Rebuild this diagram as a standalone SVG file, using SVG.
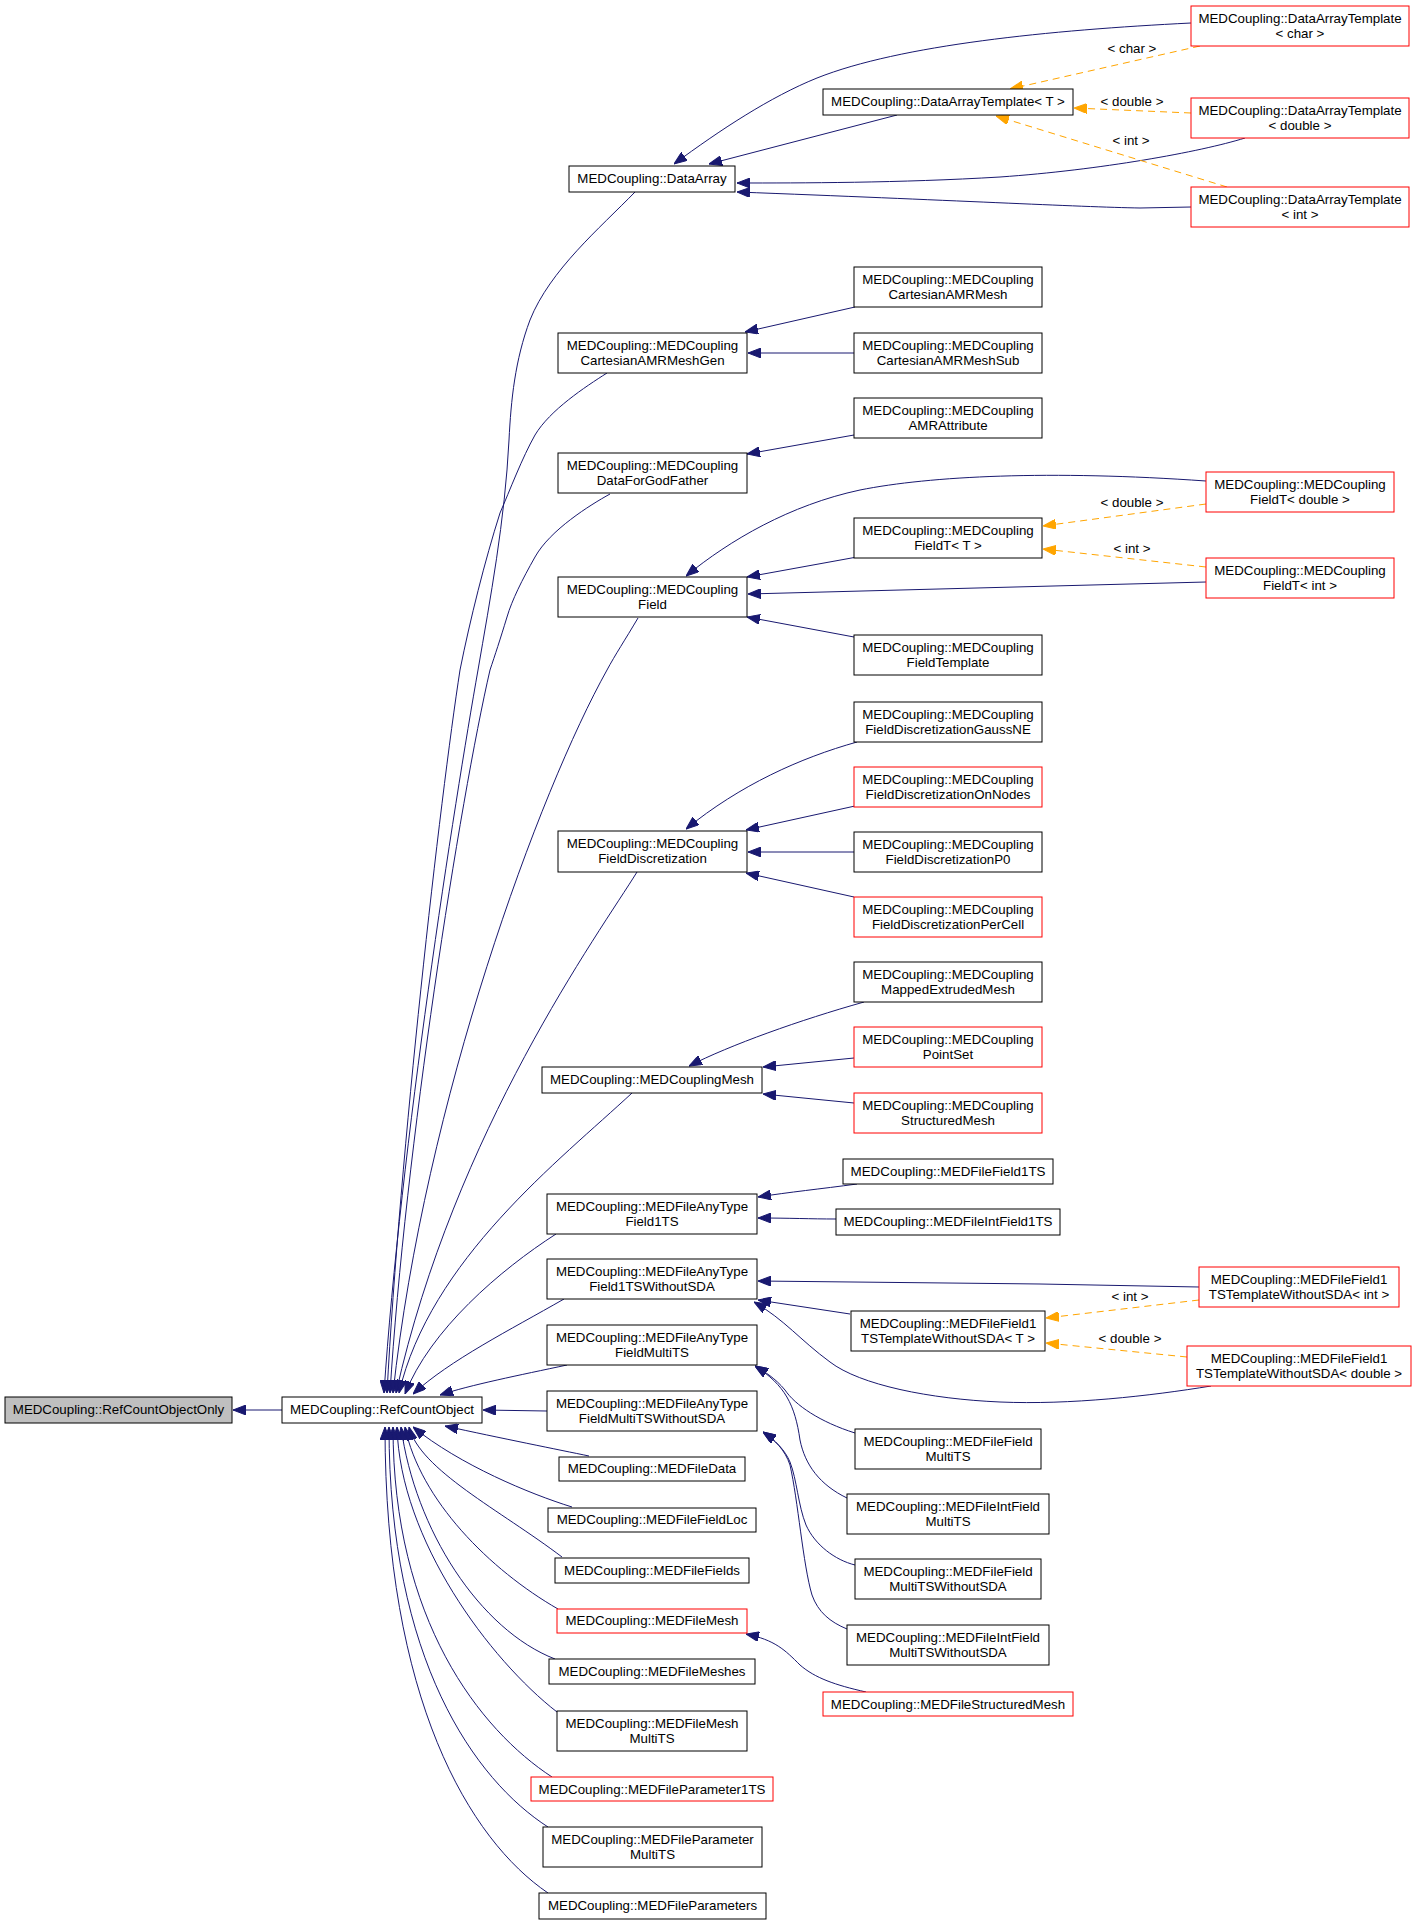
<svg xmlns="http://www.w3.org/2000/svg" width="1417" height="1925" viewBox="0 0 1417 1925">
<defs>
<marker id="ab" markerUnits="userSpaceOnUse" markerWidth="13" markerHeight="10" refX="13" refY="5" orient="auto"><path d="M0,0 L13,5 L0,10 z" fill="#191970" stroke="#191970"/></marker>
<marker id="ao" markerUnits="userSpaceOnUse" markerWidth="13" markerHeight="10" refX="13" refY="5" orient="auto"><path d="M0,0 L13,5 L0,10 z" fill="#ffa500" stroke="#ffa500"/></marker>
</defs>
<style>
rect{fill:#fff;stroke:#000;stroke-width:1}
.r rect{stroke:#f00}
.g rect{fill:#bfbfbf}
text{font-family:"Liberation Sans",Arial,Helvetica,sans-serif;font-size:13.3px;text-anchor:middle;fill:#000}
.e path{fill:none;stroke:#191970;stroke-width:1;marker-end:url(#ab)}
.e path.t{stroke:#ffa500;stroke-dasharray:7,5;marker-end:url(#ao)}
</style>
<rect x="0" y="0" width="1417" height="1925" style="fill:#fff;stroke:none"/>
<g class="e" id="edges">
<path d="M282,1410 L233,1410"/>
<path d="M635,192 C600,228 550,270 530,320 C515,360 511,400 509,440 C505,520 490,600 478,670 C455,800 400,1150 384,1393"/>
<path d="M607,373 C585,387 550,410 535,435 C522,458 510,490 500,513 C485,560 470,620 460,670 C440,800 400,1150 387,1393"/>
<path d="M610,494 C590,505 550,530 535,557 C522,580 512,600 507,617 C500,640 495,655 490,670 C460,800 405,1150 390,1393"/>
<path d="M638,618 C625,640 615,655 607,670 C540,790 425,1100 393,1393"/>
<path d="M637,872 C600,932 455,1130 396,1393"/>
<path d="M632,1093 C560,1160 430,1260 399,1393"/>
<path d="M556,1234 C500,1270 430,1330 405,1394"/>
<path d="M564,1299 C510,1330 450,1360 413,1394"/>
<path d="M567,1365 C520,1375 470,1385 440,1395"/>
<path d="M547,1411 L483,1410"/>
<path d="M589,1456 C560,1450 500,1438 445,1426"/>
<path d="M572,1507 C530,1494 460,1465 413,1427"/>
<path d="M562,1557 C500,1510 420,1470 409,1427"/>
<path d="M558,1609 C490,1570 420,1500 405,1427"/>
<path d="M555,1659 C480,1630 415,1530 401,1427"/>
<path d="M557,1712 C490,1660 400,1540 397,1427"/>
<path d="M552,1777 C480,1730 393,1620 393,1427"/>
<path d="M548,1827 C475,1780 389,1660 389,1427"/>
<path d="M548,1893 C470,1840 385,1700 385,1427"/>
<path d="M1191,23 C1050,30 900,45 817,78 C770,97 720,130 674,164"/>
<path d="M897,115 L709,164"/>
<path d="M1245,138 C1200,152 1100,170 1000,177 C900,183 800,183 737,183"/>
<path d="M1191,207 L1140,208 C1080,207 950,200 737,192"/>
<path class="t" d="M1200,46 L1010,89"/>
<path class="t" d="M1191,113 L1074,108"/>
<path class="t" d="M1227,187 L996,116"/>
<path d="M855,307 L745,332"/>
<path d="M854,353 L748,353"/>
<path d="M854,435 L747,454"/>
<path d="M1206,481 C1050,470 930,476 860,490 C790,505 730,540 686,576"/>
<path d="M857,557 L747,577"/>
<path d="M1206,582 L748,594"/>
<path d="M854,637 L747,617"/>
<path class="t" d="M1206,504 L1043,526"/>
<path class="t" d="M1206,567 L1043,549"/>
<path d="M857,742 C800,758 740,785 686,829"/>
<path d="M855,806 L746,830"/>
<path d="M854,852 L748,852"/>
<path d="M854,897 L746,873"/>
<path d="M864,1002 C800,1020 730,1045 689,1066"/>
<path d="M854,1058 L763,1067"/>
<path d="M854,1103 L763,1094"/>
<path d="M857,1184 C820,1189 790,1192 758,1197"/>
<path d="M836,1219 C810,1219 790,1218 758,1218"/>
<path d="M1199,1287 L1040,1284 L758,1281"/>
<path d="M850,1314 L758,1300"/>
<path d="M1211,1386 C1150,1396 1070,1405 1000,1402 C930,1399 860,1385 830,1362 C800,1340 785,1320 754,1302"/>
<path class="t" d="M1199,1300 L1046,1318"/>
<path class="t" d="M1187,1357 L1046,1343"/>
<path d="M855,1433 C820,1422 795,1405 785,1390 C775,1378 765,1372 755,1366"/>
<path d="M847,1498 C820,1485 805,1465 800,1440 C795,1405 785,1385 755,1366"/>
<path d="M855,1565 C835,1560 815,1545 806,1525 C798,1505 797,1480 790,1462 C785,1450 775,1440 763,1432"/>
<path d="M847,1629 C830,1622 818,1612 812,1595 C803,1565 798,1500 790,1465 C785,1450 775,1440 763,1432"/>
<path d="M866,1692 C835,1685 815,1678 800,1665 C785,1650 775,1640 746,1634"/>
</g>
<g id="edge-labels">
<text x="1132" y="53">&lt; char &gt;</text>
<text x="1132" y="106">&lt; double &gt;</text>
<text x="1131" y="145">&lt; int &gt;</text>
<text x="1132" y="507">&lt; double &gt;</text>
<text x="1132" y="553">&lt; int &gt;</text>
<text x="1130" y="1301">&lt; int &gt;</text>
<text x="1130" y="1343">&lt; double &gt;</text>
</g>
<g id="n0" class="g"><rect x="5" y="1397" width="227" height="26"/><text x="118.5" y="1414">MEDCoupling::RefCountObjectOnly</text></g>
<g id="n1"><rect x="282" y="1397" width="200" height="26"/><text x="382" y="1414">MEDCoupling::RefCountObject</text></g>
<g id="n2"><rect x="569" y="166" width="166" height="26"/><text x="652" y="183">MEDCoupling::DataArray</text></g>
<g id="n3"><rect x="823" y="89" width="250" height="26"/><text x="948" y="106">MEDCoupling::DataArrayTemplate&lt; T &gt;</text></g>
<g id="n4" class="r"><rect x="1191" y="6" width="218" height="40"/><text x="1300" y="23">MEDCoupling::DataArrayTemplate</text><text x="1300" y="37.5">&lt; char &gt;</text></g>
<g id="n5" class="r"><rect x="1191" y="98" width="218" height="40"/><text x="1300" y="115">MEDCoupling::DataArrayTemplate</text><text x="1300" y="129.5">&lt; double &gt;</text></g>
<g id="n6" class="r"><rect x="1191" y="187" width="218" height="40"/><text x="1300" y="204">MEDCoupling::DataArrayTemplate</text><text x="1300" y="218.5">&lt; int &gt;</text></g>
<g id="n7"><rect x="558" y="333" width="189" height="40"/><text x="652.5" y="350">MEDCoupling::MEDCoupling</text><text x="652.5" y="364.5">CartesianAMRMeshGen</text></g>
<g id="n8"><rect x="854" y="267" width="188" height="40"/><text x="948" y="284">MEDCoupling::MEDCoupling</text><text x="948" y="298.5">CartesianAMRMesh</text></g>
<g id="n9"><rect x="854" y="333" width="188" height="40"/><text x="948" y="350">MEDCoupling::MEDCoupling</text><text x="948" y="364.5">CartesianAMRMeshSub</text></g>
<g id="n10"><rect x="558" y="453" width="189" height="40"/><text x="652.5" y="470">MEDCoupling::MEDCoupling</text><text x="652.5" y="484.5">DataForGodFather</text></g>
<g id="n11"><rect x="854" y="398" width="188" height="40"/><text x="948" y="415">MEDCoupling::MEDCoupling</text><text x="948" y="429.5">AMRAttribute</text></g>
<g id="n12"><rect x="558" y="577" width="189" height="40"/><text x="652.5" y="594">MEDCoupling::MEDCoupling</text><text x="652.5" y="608.5">Field</text></g>
<g id="n13"><rect x="854" y="518" width="188" height="40"/><text x="948" y="535">MEDCoupling::MEDCoupling</text><text x="948" y="549.5">FieldT&lt; T &gt;</text></g>
<g id="n14" class="r"><rect x="1206" y="472" width="188" height="40"/><text x="1300" y="489">MEDCoupling::MEDCoupling</text><text x="1300" y="503.5">FieldT&lt; double &gt;</text></g>
<g id="n15" class="r"><rect x="1206" y="558" width="188" height="40"/><text x="1300" y="575">MEDCoupling::MEDCoupling</text><text x="1300" y="589.5">FieldT&lt; int &gt;</text></g>
<g id="n16"><rect x="854" y="635" width="188" height="40"/><text x="948" y="652">MEDCoupling::MEDCoupling</text><text x="948" y="666.5">FieldTemplate</text></g>
<g id="n17"><rect x="558" y="831" width="189" height="41"/><text x="652.5" y="848">MEDCoupling::MEDCoupling</text><text x="652.5" y="862.5">FieldDiscretization</text></g>
<g id="n18"><rect x="854" y="702" width="188" height="40"/><text x="948" y="719">MEDCoupling::MEDCoupling</text><text x="948" y="733.5">FieldDiscretizationGaussNE</text></g>
<g id="n19" class="r"><rect x="854" y="767" width="188" height="40"/><text x="948" y="784">MEDCoupling::MEDCoupling</text><text x="948" y="798.5">FieldDiscretizationOnNodes</text></g>
<g id="n20"><rect x="854" y="832" width="188" height="40"/><text x="948" y="849">MEDCoupling::MEDCoupling</text><text x="948" y="863.5">FieldDiscretizationP0</text></g>
<g id="n21" class="r"><rect x="854" y="897" width="188" height="40"/><text x="948" y="914">MEDCoupling::MEDCoupling</text><text x="948" y="928.5">FieldDiscretizationPerCell</text></g>
<g id="n22"><rect x="542" y="1067" width="220" height="26"/><text x="652" y="1084">MEDCoupling::MEDCouplingMesh</text></g>
<g id="n23"><rect x="854" y="962" width="188" height="40"/><text x="948" y="979">MEDCoupling::MEDCoupling</text><text x="948" y="993.5">MappedExtrudedMesh</text></g>
<g id="n24" class="r"><rect x="854" y="1027" width="188" height="40"/><text x="948" y="1044">MEDCoupling::MEDCoupling</text><text x="948" y="1058.5">PointSet</text></g>
<g id="n25" class="r"><rect x="854" y="1093" width="188" height="40"/><text x="948" y="1110">MEDCoupling::MEDCoupling</text><text x="948" y="1124.5">StructuredMesh</text></g>
<g id="n26"><rect x="547" y="1194" width="210" height="40"/><text x="652" y="1211">MEDCoupling::MEDFileAnyType</text><text x="652" y="1225.5">Field1TS</text></g>
<g id="n27"><rect x="843" y="1159" width="210" height="25"/><text x="948" y="1176" textLength="195" lengthAdjust="spacingAndGlyphs">MEDCoupling::MEDFileField1TS</text></g>
<g id="n28"><rect x="836" y="1209" width="224" height="26"/><text x="948" y="1226" textLength="209" lengthAdjust="spacingAndGlyphs">MEDCoupling::MEDFileIntField1TS</text></g>
<g id="n29"><rect x="547" y="1259" width="210" height="40"/><text x="652" y="1276">MEDCoupling::MEDFileAnyType</text><text x="652" y="1290.5">Field1TSWithoutSDA</text></g>
<g id="n30"><rect x="851" y="1311" width="194" height="40"/><text x="948" y="1328">MEDCoupling::MEDFileField1</text><text x="948" y="1342.5">TSTemplateWithoutSDA&lt; T &gt;</text></g>
<g id="n31" class="r"><rect x="1199" y="1267" width="200" height="40"/><text x="1299" y="1284">MEDCoupling::MEDFileField1</text><text x="1299" y="1298.5">TSTemplateWithoutSDA&lt; int &gt;</text></g>
<g id="n32" class="r"><rect x="1187" y="1346" width="224" height="40"/><text x="1299" y="1363">MEDCoupling::MEDFileField1</text><text x="1299" y="1377.5">TSTemplateWithoutSDA&lt; double &gt;</text></g>
<g id="n33"><rect x="547" y="1325" width="210" height="40"/><text x="652" y="1342">MEDCoupling::MEDFileAnyType</text><text x="652" y="1356.5">FieldMultiTS</text></g>
<g id="n34"><rect x="547" y="1391" width="210" height="40"/><text x="652" y="1408">MEDCoupling::MEDFileAnyType</text><text x="652" y="1422.5">FieldMultiTSWithoutSDA</text></g>
<g id="n35"><rect x="855" y="1429" width="186" height="40"/><text x="948" y="1446">MEDCoupling::MEDFileField</text><text x="948" y="1460.5">MultiTS</text></g>
<g id="n36"><rect x="847" y="1494" width="202" height="40"/><text x="948" y="1511">MEDCoupling::MEDFileIntField</text><text x="948" y="1525.5">MultiTS</text></g>
<g id="n37"><rect x="855" y="1559" width="186" height="40"/><text x="948" y="1576">MEDCoupling::MEDFileField</text><text x="948" y="1590.5">MultiTSWithoutSDA</text></g>
<g id="n38"><rect x="847" y="1625" width="202" height="40"/><text x="948" y="1642">MEDCoupling::MEDFileIntField</text><text x="948" y="1656.5">MultiTSWithoutSDA</text></g>
<g id="n39"><rect x="559" y="1457" width="186" height="24"/><text x="652" y="1473">MEDCoupling::MEDFileData</text></g>
<g id="n40"><rect x="548" y="1508" width="208" height="24"/><text x="652" y="1524">MEDCoupling::MEDFileFieldLoc</text></g>
<g id="n41"><rect x="555" y="1558" width="194" height="25"/><text x="652" y="1574.5">MEDCoupling::MEDFileFields</text></g>
<g id="n42" class="r"><rect x="557" y="1609" width="190" height="24"/><text x="652" y="1625">MEDCoupling::MEDFileMesh</text></g>
<g id="n43" class="r"><rect x="823" y="1692" width="250" height="24"/><text x="948" y="1708.5">MEDCoupling::MEDFileStructuredMesh</text></g>
<g id="n44"><rect x="549" y="1659" width="206" height="25"/><text x="652" y="1675.5">MEDCoupling::MEDFileMeshes</text></g>
<g id="n45"><rect x="557" y="1711" width="190" height="40"/><text x="652" y="1728">MEDCoupling::MEDFileMesh</text><text x="652" y="1742.5">MultiTS</text></g>
<g id="n46" class="r"><rect x="531" y="1777" width="242" height="24"/><text x="652" y="1793.5">MEDCoupling::MEDFileParameter1TS</text></g>
<g id="n47"><rect x="543" y="1827" width="219" height="40"/><text x="652.5" y="1844">MEDCoupling::MEDFileParameter</text><text x="652.5" y="1858.5">MultiTS</text></g>
<g id="n48"><rect x="539" y="1893" width="227" height="26"/><text x="652.5" y="1910">MEDCoupling::MEDFileParameters</text></g>
</svg>
